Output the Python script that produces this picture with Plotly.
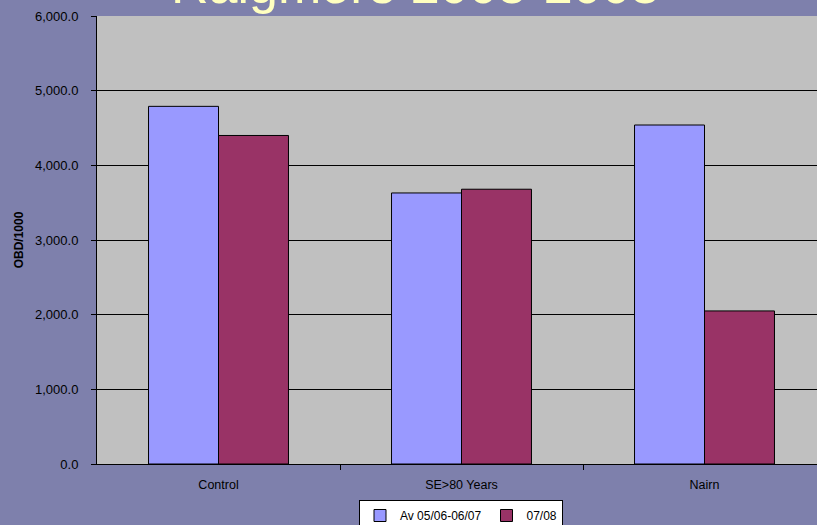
import plotly.graph_objects as go

categories = ["Control", "SE>80 Years", "Nairn"]
series_names = ["Av 05/06-06/07", "07/08"]
av_values = [4790, 3630, 4540]
y0708_values = [4400, 3680, 2050]
y_ticks = [0, 1000, 2000, 3000, 4000, 5000, 6000]
title_text = "Raigmore 2005-2008"

fig = go.Figure()
fig.add_trace(go.Bar(x=categories, y=av_values, name=series_names[0],
                     marker=dict(color="#9999ff", line=dict(color="#000000", width=1))))
fig.add_trace(go.Bar(x=categories, y=y0708_values, name=series_names[1],
                     marker=dict(color="#993366", line=dict(color="#000000", width=1))))

W, H = 817, 525
L, R, T, B = 97, 0, 16, 61
plot_w = W - L - R
plot_h = H - T - B
cat_w = 243.0
x_right = -0.5 + plot_w / cat_w

fig.update_layout(
    width=W, height=H,
    margin=dict(l=L, r=R, t=T, b=B, pad=0, autoexpand=False),
    paper_bgcolor="#7e80ac",
    plot_bgcolor="#c0c0c0",
    barmode="group",
    bargap=0.424,
    bargroupgap=0,
    font=dict(family="Arial, Liberation Sans, sans-serif", color="#000000", size=12),
    showlegend=True,
    legend=dict(orientation="h", x=(461 - L) / plot_w, xanchor="center",
                y=(464 - 500) / plot_h, yanchor="top",
                bgcolor="#ffffff", bordercolor="#000000", borderwidth=1,
                font=dict(size=12), itemwidth=30, tracegroupgap=0),
    xaxis=dict(range=[-0.5, x_right], showgrid=False, showline=True, linecolor="#000000",
               linewidth=1, ticks="outside", tickcolor="#000000", ticklen=5,
               tickmode="array", tickvals=[0.5, 1.5], ticktext=["", ""],
               zeroline=False, fixedrange=True),
    xaxis2=dict(overlaying="x", range=[-0.5, x_right], showgrid=False, showline=False,
                zeroline=False,
                tickmode="array", tickvals=[0, 1, 2], ticktext=categories, ticks="",
                tickfont=dict(size=12.5), side="bottom", anchor="y", ticklabelstandoff=11),
    yaxis=dict(range=[0, 6000], tickvals=y_ticks, tickformat=",.1f",
               showgrid=True, gridcolor="#000000", gridwidth=1,
               showline=True, linecolor="#000000", linewidth=1,
               ticks="outside", tickcolor="#000000", ticklen=5,
               tickfont=dict(size=13), zeroline=False, ticklabelstandoff=10,
               title=dict(text="<b>OBD/1000</b>", font=dict(size=12), standoff=8)),
    annotations=[dict(text=title_text, xref="paper", yref="paper", x=(415 - L) / plot_w,
                      y=1 + (T - 16) / plot_h, xanchor="center", yanchor="bottom",
                      showarrow=False, font=dict(size=52, color="#ffffc0",
                                                 family="Arial, Liberation Sans, sans-serif"))]
)
fig.add_trace(go.Scatter(x=[0, 1, 2], y=[None, None, None], xaxis="x2", showlegend=False,
                         hoverinfo="skip"))

fig.write_html("out.html", config={"displayModeBar": False},
               post_script="document.body.style.margin='0';")
